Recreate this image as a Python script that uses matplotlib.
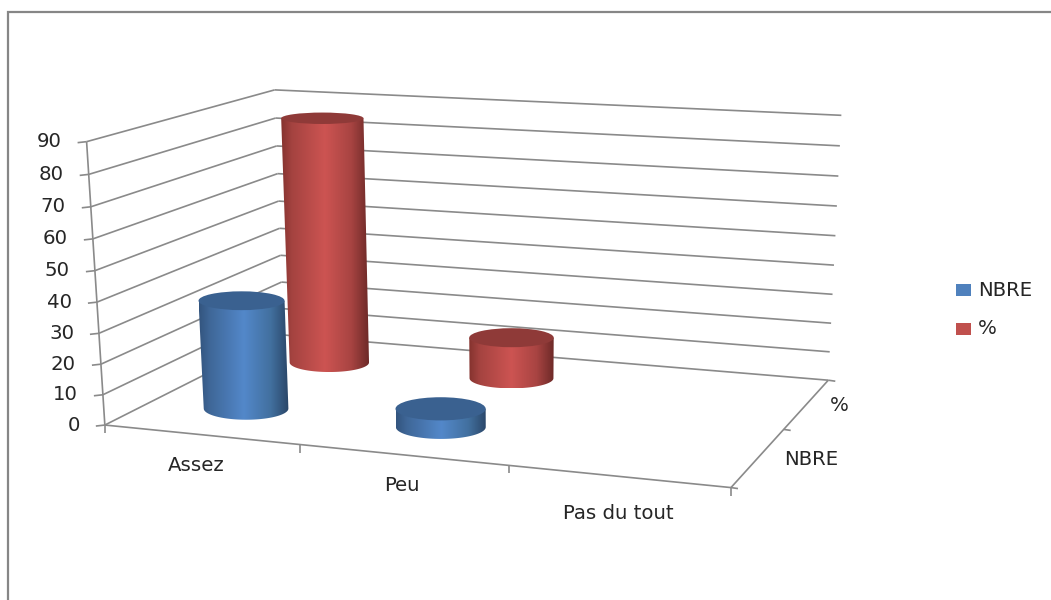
import numpy as np
import matplotlib
matplotlib.use("Agg")
import matplotlib.pyplot as plt
from matplotlib.colors import LinearSegmentedColormap
from matplotlib.patches import Polygon, Ellipse, Rectangle

categories = ["Assez", "Peu", "Pas du tout"]
series_names = ["NBRE", "%"]
nbre_values = [36, 6, 0]
pct_values = [85.7, 14.3, 0]
z_ticks = [0, 10, 20, 30, 40, 50, 60, 70, 80, 90]

GRID = "#8a8a8a"
TXT = "#262626"
FONT = "DejaVu Sans"
FS = 14.2

# camera of the 3-D box: fitted from the box corners (layout, not data)
world = np.array([(0,0,0),(3,0,0),(3,2,0),(0,2,0),(0,0,90),(3,2,90),(0,2,90),(1,0,0),(2,0,0),(3,1,0)], float)
pix = np.array([(103,424),(731,488),(827,380),(286,336),(89,142),(842,116),(272,89),(300,445),(508,466),(785,428)], float)
A = []
for (X, Y, Z), (x, y) in zip(world, pix):
    A.append([X, Y, Z, 1, 0, 0, 0, 0, -x*X, -x*Y, -x*Z, -x])
    A.append([0, 0, 0, 0, X, Y, Z, 1, -y*X, -y*Y, -y*Z, -y])
A = np.array(A)
A_scale = np.array([1, 1, 1/90, 1, 1, 1, 1/90, 1, 1, 1, 1/90, 1])
P = np.linalg.svd(A * A_scale)[2][-1] * A_scale
P = P.reshape(3, 4)


def proj(u, v, z):
    h = P @ np.array([u, v, z, 1.0])
    return h[0] / h[2], h[1] / h[2]


fig = plt.figure(figsize=(10.51, 6.0), dpi=100)
ax = fig.add_axes([0, 0, 1, 1])
ax.set_xlim(0, 1051)
ax.set_ylim(600, 0)
ax.axis("off")

# outer chart border
ax.plot([8, 8, 1051], [600, 12, 12], color="#868686", lw=1.6, solid_joinstyle="miter", zorder=1)


def seg(p, q, lw=1.2):
    ax.plot([p[0], q[0]], [p[1], q[1]], color=GRID, lw=lw, zorder=2, solid_capstyle="butt")


nu, nv = len(categories), len(series_names)
zmax = z_ticks[-1]
# wall gridlines and value axis
for z in z_ticks:
    seg(proj(0, 0, z), proj(0, nv, z))
    seg(proj(0, nv, z), proj(nu, nv, z))
    p = proj(0, 0, z)
    seg((p[0] - 9, p[1] + 1), p)
    ax.text(p[0] - 25, p[1], str(z), ha="right", va="center",
            fontsize=FS, color=TXT, family=FONT, zorder=6)
seg(proj(0, 0, 0), proj(0, 0, zmax))
# floor edges
seg(proj(0, 0, 0), proj(nu, 0, 0))
seg(proj(nu, 0, 0), proj(nu, nv, 0))
for i in range(nu + 1):
    p = proj(i, 0, 0)
    seg(p, (p[0], p[1] + 8))
for j in range(nv + 1):
    p = proj(nu, j, 0)
    seg(p, (p[0] + 7, p[1] + 1))

cat_offsets = [(-5, 31), (-1, 31), (0, 37)]
for i, c in enumerate(categories):
    p = proj(i + 0.5, 0, 0)
    ax.text(p[0] + cat_offsets[i][0], p[1] + cat_offsets[i][1], c, ha="center", va="center",
            fontsize=FS, color=TXT, family=FONT, zorder=6)
ser_offsets = [53, 32]
for j, s in enumerate(series_names):
    p = proj(nu, j + 0.5, 0)
    ax.text(p[0] + ser_offsets[j], p[1] + 2, s, ha="center", va="center", fontsize=FS, color=TXT, family=FONT, zorder=6)


def ramp(colors):
    return LinearSegmentedColormap.from_list("r", colors)


styles = [
    dict(cmap=ramp([(0, "#33557f"), (0.12, "#3f6798"), (0.5, "#5388ca"), (0.8, "#42709f"), (1, "#2a4668")]),
         top="#3a6190", swatch="#4f81bd"),
    dict(cmap=ramp([(0, "#85332f"), (0.12, "#a44340"), (0.5, "#cd5452"), (0.8, "#a84442"), (1, "#6e2a28")]),
         top="#8f3a38", swatch="#c0504d"),
]
RU, RV = 0.224, 0.225
U_SHIFT = 0.49


def cylinder(u, v, val, st, zo):
    if val <= 0:
        return
    xb, yb = proj(u, v, 0)
    xt, yt = proj(u, v, val)
    ab = (proj(u + RU, v, 0)[0] - proj(u - RU, v, 0)[0]) / 2
    at = (proj(u + RU, v, val)[0] - proj(u - RU, v, val)[0]) / 2
    bb = abs(proj(u, v - RV, 0)[1] - proj(u, v + RV, 0)[1]) / 2
    bt = abs(proj(u, v - RV, val)[1] - proj(u, v + RV, val)[1]) / 2
    t = np.linspace(0, np.pi, 60)
    lower = np.c_[xb - ab * np.cos(t), yb + bb * np.sin(t)]
    body = np.vstack([[(xt - at, yt)], lower, [(xt + at, yt)]])
    clip = Polygon(body, closed=True, transform=ax.transData, fc="none", ec="none")
    ax.add_patch(clip)
    x0 = min(xt - at, xb - ab)
    x1 = max(xt + at, xb + ab)
    im = ax.imshow(np.linspace(0, 1, 128)[None, :], cmap=st["cmap"], extent=(x0, x1, yb + bb, yt),
                   aspect="auto", zorder=zo, interpolation="bilinear")
    im.set_clip_path(clip)
    ax.add_patch(Ellipse((xt, yt), 2 * at, 2 * bt, fc=st["top"], ec="none", zorder=zo + 0.1))


# back series first, so the front series overlaps it
values = [nbre_values, pct_values]
for j in range(nv - 1, -1, -1):
    for i in range(nu):
        cylinder(i + U_SHIFT, j + 0.5, values[j][i], styles[j], 3 + (nv - j))

ax.set_xlim(0, 1051)
ax.set_ylim(600, 0)

# legend
for (name, st, y) in zip(series_names, styles, [290, 328.5]):
    ax.add_patch(Rectangle((956, y - 6), 15, 12, fc=st["swatch"], ec="none", zorder=6))
    ax.text(978, y, name, ha="left", va="center", fontsize=FS, color=TXT, family=FONT, zorder=6)

fig.savefig("out.png", dpi=100, facecolor="white")
